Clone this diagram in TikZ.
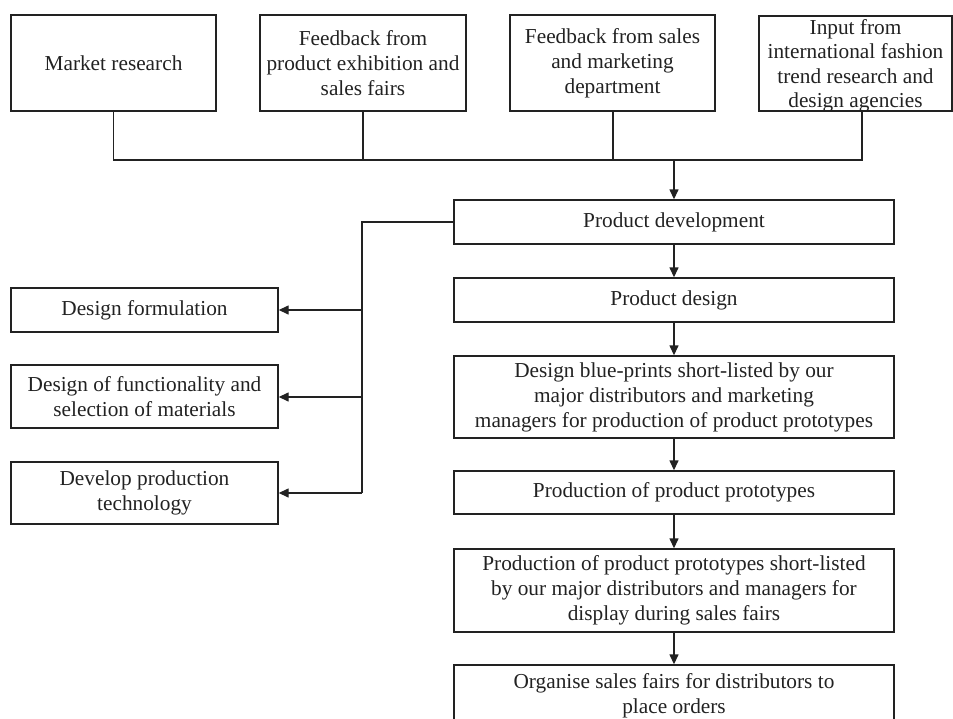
\documentclass[tikz,border=0pt]{standalone}
\usepackage{fontspec}
\setmainfont{Liberation Serif}
\usetikzlibrary{arrows.meta}
\definecolor{ink}{HTML}{222222}
\tikzset{
  box/.style={draw=ink, line width=1.4pt, rectangle, align=center, inner sep=0pt,
    text=ink, font=\fontsize{21.3pt}{25pt}\selectfont},
  boxtext/.style={align=center, inner sep=0pt, text=ink, font=\fontsize{21.3pt}{24.5pt}\selectfont},
  link/.style={draw=ink, line width=1.4pt},
  arr/.style={link, -{Triangle[length=10pt,width=9pt]}}
}
\begin{document}
\begin{tikzpicture}[x=1pt,y=-1pt]
\useasboundingbox (0,0) rectangle (953,718);
\clip (0,0) rectangle (953,718);
% top row
\node[box, minimum width=205pt, minimum height=96pt] (mr) at (113.5,63) {Market research};
\node[box, minimum width=206pt, minimum height=96pt] (fe) at (363,63) {Feedback from\\product exhibition and\\sales fairs};
\node[box, minimum width=205pt, minimum height=96pt] (fs) at (612.5,63) {Feedback from sales\\and marketing\\department};
\node[box, minimum width=193pt, minimum height=95pt] (ia) at (855.5,63.5) {};
\node[boxtext] (iatext) at (855.5,66) {Input from\\international fashion\\trend research and\\design agencies};
% right column
\node[box, minimum width=440pt, minimum height=44pt] (pd) at (674,222) {Product development};
\node[box, minimum width=440pt, minimum height=44pt] (pde) at (674,300) {Product design};
\node[box, minimum width=440pt, minimum height=82pt] (bp) at (674,397) {Design blue-prints short-listed by our\\major distributors and marketing\\managers for production of product prototypes};
\node[box, minimum width=440pt, minimum height=43pt] (pp) at (674,492.5) {Production of product prototypes};
\node[box, minimum width=440pt, minimum height=83pt] (sl) at (674,590.5) {Production of product prototypes short-listed\\by our major distributors and managers for\\display during sales fairs};
\node[box, minimum width=440pt, minimum height=62pt] (os) at (674,696) {Organise sales fairs for distributors to\\place orders};
% left column
\node[box, minimum width=267pt, minimum height=44pt] (df) at (144.5,310) {Design formulation};
\node[box, minimum width=267pt, minimum height=63pt] (dm) at (144.5,396.5) {Design of functionality and\\selection of materials};
\node[box, minimum width=267pt, minimum height=62pt] (dp) at (144.5,493) {Develop production\\technology};
% top bus
\coordinate (busL) at (114,160);
\coordinate (busR) at (862,160);
\coordinate (fsdrop) at (613,160);
\draw[link] (mr.south) -- (mr.south |- busL) -- (busR) -- (busR |- ia.south);
\draw[link] (fe.south) -- (fe.south |- busL);
\draw[link] (fsdrop |- fs.south) -- (fsdrop);
\draw[arr] (pd.north |- busL) -- (pd.north);
% left trunk
\coordinate (trunk) at (362,222);
\coordinate (dmjoin) at (362,397);
\draw[link] (pd.west) -- (trunk) -- (trunk |- dp.east);
\draw[arr] (trunk |- df.east) -- (df.east);
\draw[arr] (dmjoin) -- (dmjoin -| dm.east);
\draw[arr] (trunk |- dp.east) -- (dp.east);
% right chain
\draw[arr] (pd.south) -- (pde.north);
\draw[arr] (pde.south) -- (bp.north);
\draw[arr] (bp.south) -- (pp.north);
\draw[arr] (pp.south) -- (sl.north);
\draw[arr] (sl.south) -- (os.north);
\end{tikzpicture}
\end{document}
